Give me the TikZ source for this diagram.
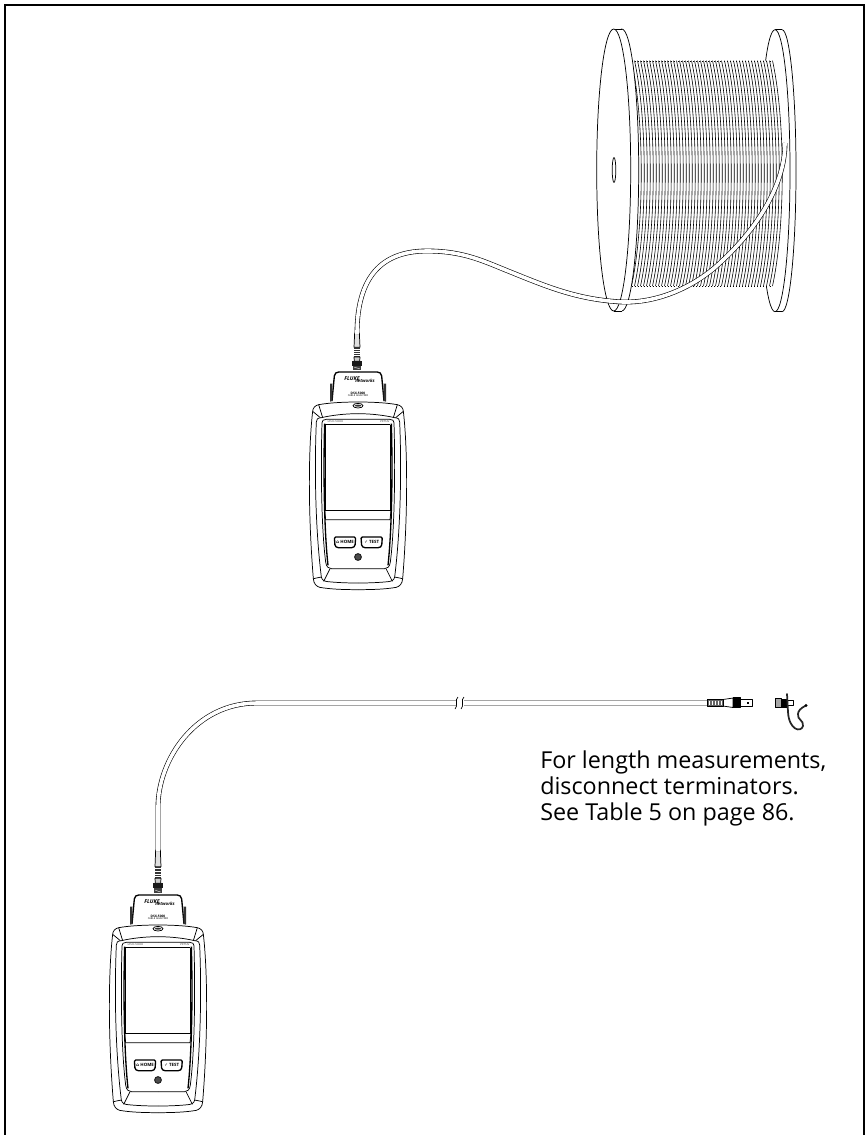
\documentclass[tikz,border=0pt]{standalone}
\usepackage{fontspec}
\usetikzlibrary{calc}
\setmainfont{Open Sans}
\newfontfamily\symfont{DejaVu Sans}
\begin{document}
\begin{tikzpicture}[x=.75pt,y=-.75pt]
	\tikzset{
		outline/.style={line width=.55pt, line join=round},
		heavy/.style={line width=1pt, line join=round},
		cable/.style={line width=.45pt, double=white, double distance=2.7pt},
		coil/.style={line width=.45pt},
		tiny/.style={inner sep=0, font=\fontsize{2.6}{3}\selectfont},
		keylabel/.style={inner sep=0, font=\fontsize{3.3}{4}\selectfont\bfseries},
		bnc/.pic={
				\begin{scope}[x=.25pt,y=-.25pt]
					\draw[outline, fill=black!12] (-7,0) -- (7,0) -- (9,50) -- (-9,50) -- cycle;
					\fill[black!80] (-9,50) rectangle (9,85);
					\foreach \y in {56,64,...,80}{
							\draw[white, line width=.3pt] (-8,\y) -- (8,\y);
						}
					\draw[outline, fill=black!20] (-9,85) -- (9,85) -- (8,100) -- (-8,100) -- cycle;
					\fill[black!90] (-14,100) rectangle (14,115);
					\fill[black!75] (-11,115) rectangle (11,130);
					\draw[white, line width=.3pt] (-8,121) -- (8,126);
				\end{scope}
			},
		tester/.pic={
				\begin{scope}[x=.25pt,y=-.25pt]
					\foreach \s in {-1,1}{
							\begin{scope}[xscale=\s]
								\draw[outline] (0,0) .. controls (-50,0) and (-90,3) .. (-118,8) .. controls (-128,10) and (-136,18) .. (-136,28) .. controls (-148,130) and (-151,320) .. (-134,530) .. controls (-133,545) and (-125,553) .. (-115,556) .. controls (-80,562) and (-40,563) .. (0,563);
								\draw[outline] (0,35) .. controls (-40,35) and (-80,40) .. (-110,47) .. controls (-122,48) and (-125,52) .. (-125,60) .. controls (-131,200) and (-128,380) .. (-110,525) .. controls (-108,535) and (-100,538) .. (-90,539) .. controls (-60,542) and (-30,543) .. (0,543);
								\draw[outline] (-118,8) -- (-106,47);
								\draw[outline] (-136,28) -- (-113,47);
								\draw[outline] (-84,500) -- (-103,538);
								\draw[outline] (-134,530) -- (-110,525);
								\draw[heavy] (-78,-3) -- (-71,-78) .. controls (-70,-86) and (-65,-90) .. (-58,-90) -- (0,-90);
								\fill[black!80] (-84,-55) -- (-77,-55) -- (-77,-3) -- (-84,-1) -- cycle;
								\draw[outline] (-108,62) .. controls (-112,200) and (-110,380) .. (-97,480) .. controls (-95,495) and (-88,500) .. (-80,500) -- (0,500);
								\draw[outline] (0,52) -- (-95,52) .. controls (-104,52) and (-108,56) .. (-108,62);
								\draw[heavy] (-100,65) .. controls (-104,200) and (-102,380) .. (-90,490);
							\end{scope}
						}
					\draw[heavy] (-98,68) -- (97,68);
					\draw[outline] (-98,68) -- (-98,325);
					\draw[outline] (97,68) -- (97,325);
					\draw[heavy] (-99,325) -- (98,325);
					\draw[outline] (-100,325) -- (-97,353) -- (96,353) -- (99,325);
					\draw[outline, fill=white] (0,11) ellipse (15 and 7);
					\fill[black!80] (0,11) ellipse (10 and 3);
					\foreach \k in {-39,41}{
							\draw[heavy, fill=white, rounded corners=1pt] (\k-32,405) -- (\k+32,405) -- (\k+30,432) -- (\k+24,437) -- (\k-24,437) -- (\k-30,432) -- cycle;
						}
					\node[keylabel] (homekey) at (-39,419) {{\symfont ⌂} HOME};
					\node[keylabel] (testkey) at (41,419) {{\symfont ✓} TEST};
					\draw[black!85, fill=black!70, line width=.8pt] (0,465) circle (10);
					\node[tiny, font=\fontsize{4}{3}\selectfont\bfseries\itshape] (brand) at (-18,-71) {FLUKE};
					\node[tiny, font=\fontsize{3.3}{3}\selectfont\bfseries\itshape] (subbrand) at (21,-62) {networks};
					\node[tiny, font=\fontsize{2.4}{3}\selectfont\bfseries] (modelname) at (0,-26) {DSX-5000};
					\node[tiny, font=\fontsize{1.9}{3}\selectfont] (modeltype) at (0,-18) {CABLE ANALYZER};
					\node[tiny, black!70] (screenmodel) at (-68,59) {DSX-5000};
					\node[tiny, black!70] (screenbrand) at (80,59) {Versiv};
				\end{scope}
			},
	}
	\useasboundingbox (0,0) rectangle (866,1135);
	\draw[line width=1.5pt] (5,1136) -- (5,5) -- (864,5) -- (864,1136);
	\coordinate (spoolrear) at (775,170.7);
	\coordinate (spoolfront) at (613.7,170);
	\draw[outline, fill=white] ($(spoolrear)+(7,0)$) ellipse (14 and 141);
	\fill[white] (775,29.7) rectangle (782,311.7);
	\draw[outline] (775,29.7) -- (782,29.7);
	\draw[outline] (775,311.7) -- (782,311.7);
	\draw[outline, fill=white] (spoolrear) ellipse (15 and 141);
	\fill[white] (631.5,60.7) -- (772.5,60.7) .. controls (786,120) and (786,226) .. (772.5,286) -- (631.5,286) -- cycle;
	\foreach \x in {0,...,47}{
			\draw[coil] ({631.5+3*\x},60.7) .. controls ({644.5+3*\x},120) and ({644.5+3*\x},226) .. ({631.5+3*\x},286);
		}
	\draw[line width=.3pt, dotted] (631.5,60.7) -- (772.5,60.7);
	\draw[line width=.3pt, dotted] (631.5,286) -- (772.5,286);
	\draw[outline, fill=white] ($(spoolfront)+(8,0)$) ellipse (17 and 141);
	\fill[white] (613.7,29) rectangle (621.7,311);
	\draw[outline] (613.7,29) -- (621.7,29);
	\draw[outline] (613.7,311) -- (621.7,311);
	\draw[outline, fill=white] (spoolfront) ellipse (17 and 141);
	\draw[outline] (614,170) ellipse (1.8 and 12.5);
	\pic at (358,402) {tester};
	\pic[yscale=.85] at (357,333) {bnc};
	\coordinate (plugone) at (357,334);
	\coordinate (spoolend) at (785,143);
	\draw[cable] (plugone) .. controls (357,285) and (375,251) .. (427,251) .. controls (465,251) and (485,262) .. (513,273) .. controls (550,288) and (580,300) .. (623,302) .. controls (660,303) and (698,285) .. (723,260) .. controls (750,235) and (785,190) .. (spoolend);
	\pic at (158,925) {tester};
	\pic at (158,850) {bnc};
	\coordinate (plugtwo) at (158,851);
	\coordinate (breakleft) at (456,703);
	\coordinate (breakright) at (464,703);
	\coordinate (plugthree) at (707,703);
	\draw[cable] (plugtwo) -- (158,807) .. controls (158,760) and (195,703) .. (257,703) -- (breakleft) (breakright) -- (plugthree);
	\draw[line width=.5pt] (458,697) .. controls (454,700) and (459,705) .. (455,709);
	\draw[line width=.5pt] (464,697) .. controls (460,700) and (465,705) .. (461,709);
	\draw[outline, fill=black!60] (707,699.5) rectangle (723,706);
	\foreach \x in {709,712,...,721}{
			\draw[white, line width=.4pt] (\x,700.5) -- (\x,705);
		}
	\draw[outline] (723,699.5) -- (733,698) -- (733,707.5) -- (723,706);
	\fill[black] (733,697.5) rectangle (740,707.5);
	\draw[outline] (733,697.5) rectangle (740,707.5);
	\draw[outline] (740,699.5) rectangle (752,706);
	\fill[black] (747,702) rectangle (749,704);
	\draw[outline, fill=black!35] (775,698.5) rectangle (781,707.5);
	\fill[black] (781,698.5) rectangle (787,707.5);
	\draw[outline] (787,700.5) rectangle (793.5,705);
	\draw[line width=1.3pt, black!85, line cap=round] (787,694) -- (788,712) .. controls (789,730) and (801,733) .. (803,726) .. controls (804,720) and (797,720) .. (798,714) .. controls (798,711) and (801,708) .. (805,706);
	\fill[black] (806,705.5) circle (1.7);
	\node[anchor=north west, inner sep=0, align=left, font=\fontsize{17.5}{19.7}\selectfont] (lengthnote) at (540,750) {For length measurements,\\disconnect terminators.\\See Table 5 on page 86.};
\end{tikzpicture}
\end{document}
